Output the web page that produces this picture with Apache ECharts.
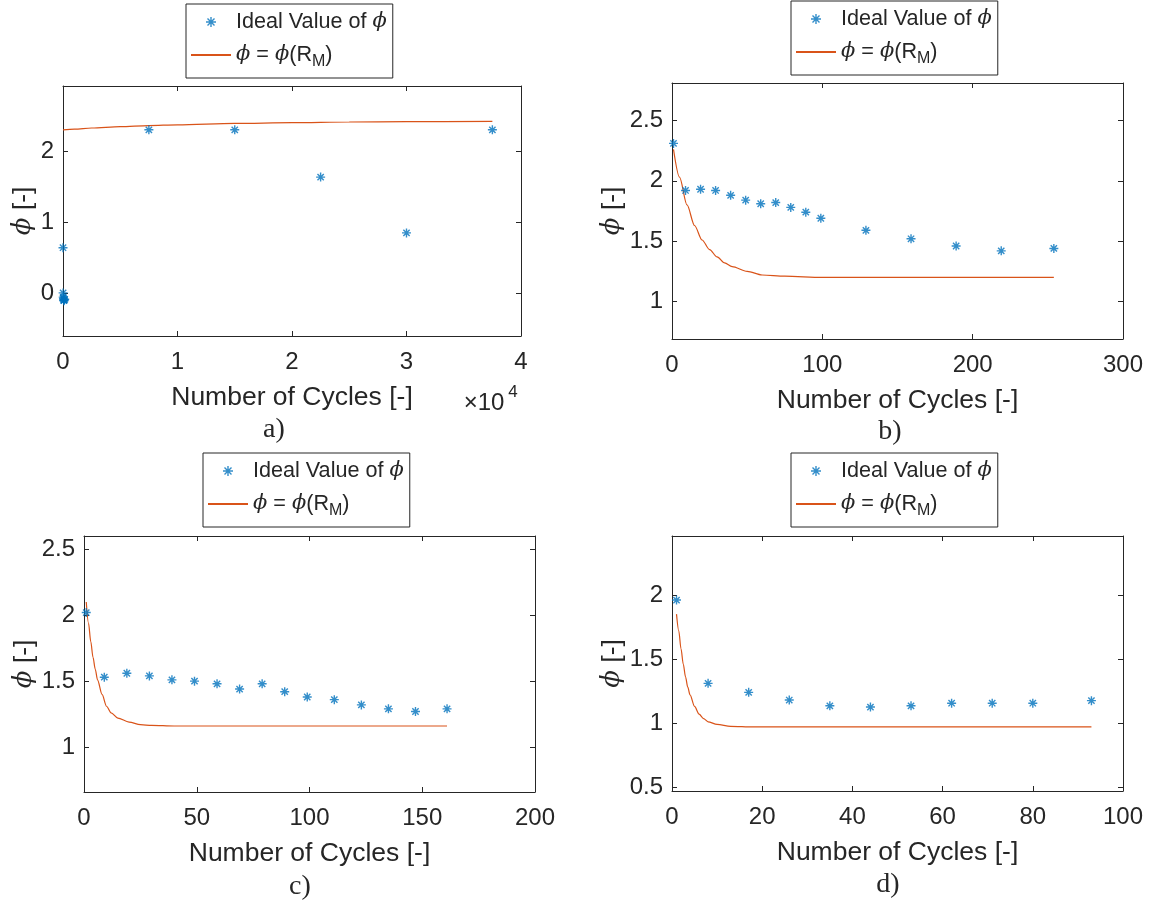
<!DOCTYPE html>
<html>
<head>
<meta charset="utf-8">
<script src="https://cdn.jsdelivr.net/npm/echarts@6/dist/echarts.min.js"></script>
<style>
  html, body { margin: 0; padding: 0; background: #fff; }
  #chart { width: 1153px; height: 909px; }
</style>
</head>
<body>
<div id="chart"></div>
<script>
// a) cycles to failure, large spread
const aIdealX = [1, 10, 20, 40, 60, 80, 100, 150, 7500, 15000, 22500, 30000, 37500];
const aIdealY = [0.64, 0.0, -0.06, -0.08, -0.1, -0.11, -0.1, -0.09, 2.31, 2.31, 1.64, 0.85, 2.31];
const aModelX = [0, 1000, 2500, 5000, 7500, 10000, 15000, 20000, 25000, 30000, 37500];
const aModelY = [2.31, 2.32, 2.335, 2.355, 2.37, 2.38, 2.40, 2.41, 2.42, 2.425, 2.43];

// b)
const bIdealX = [1, 9, 19, 29, 39, 49, 59, 69, 79, 89, 99, 129, 159, 189, 219, 254];
const bIdealY = [2.31, 1.92, 1.93, 1.92, 1.88, 1.84, 1.81, 1.82, 1.78, 1.74, 1.69, 1.59, 1.52, 1.46, 1.42, 1.44];
const bModelX = [1, 5, 10, 15, 20, 25, 30, 35, 40, 50, 60, 75, 100, 150, 254];
const bModelY = [2.26, 2.03, 1.80, 1.63, 1.51, 1.43, 1.37, 1.32, 1.29, 1.25, 1.22, 1.21, 1.20, 1.20, 1.20];

// c)
const cIdealX = [1, 9, 19, 29, 39, 49, 59, 69, 79, 89, 99, 111, 123, 135, 147, 161];
const cIdealY = [2.02, 1.53, 1.56, 1.54, 1.51, 1.50, 1.48, 1.44, 1.48, 1.42, 1.38, 1.36, 1.32, 1.29, 1.27, 1.29];
const cModelX = [1, 2, 3, 4, 5, 6, 8, 10, 12, 15, 20, 25, 30, 40, 60, 161];
const cModelY = [2.10, 1.94, 1.80, 1.68, 1.59, 1.51, 1.40, 1.31, 1.26, 1.22, 1.19, 1.17, 1.165, 1.16, 1.16, 1.16];

// d)
const dIdealX = [1, 8, 17, 26, 35, 44, 53, 62, 71, 80, 93];
const dIdealY = [1.96, 1.31, 1.24, 1.18, 1.135, 1.125, 1.135, 1.155, 1.155, 1.155, 1.175];
const dModelX = [1, 1.5, 2, 2.5, 3, 3.5, 4, 5, 6, 7, 8, 10, 13, 18, 40, 93];
const dModelY = [1.85, 1.72, 1.58, 1.46, 1.36, 1.28, 1.22, 1.13, 1.07, 1.035, 1.01, 0.99, 0.975, 0.97, 0.97, 0.97];

// axis tick labels
const aYTicks = [0, 1, 2];
const bYTicks = [1, 1.5, 2, 2.5];
const cYTicks = [1, 1.5, 2, 2.5];
const dYTicks = [0.5, 1, 1.5, 2];
const panelLabels = ["a)", "b)", "c)", "d)"];

const INK = "#262626";
const BLUE = "#0072BD";
const ORANGE = "#D95319";
const SANS = "Liberation Sans";
const SERIF = "DejaVu Serif";
const ASTERISK = "path://M5,0L5,10M0,5L10,5M1.5,1.5L8.5,8.5M1.5,8.5L8.5,1.5";
const IDEAL = "Ideal Value of ϕ";
const MODEL = "ϕ = ϕ(R_M)";

const pts = (xs, ys) => xs.map((x, i) => [x, ys[i]]);

const panels = [
  { ideal: pts(aIdealX, aIdealY), model: pts(aModelX, aModelY),
    grid: { left: 63, top: 86, width: 458, height: 250 },
    x: [0, 40000, 10000], y: [-0.61, 2.93], yTicks: aYTicks, yGap: 26,
    legend: { left: 186, top: 4 }, label: [274, 430], xFmt: (v) => v / 10000 },
  { ideal: pts(bIdealX, bIdealY), model: pts(bModelX, bModelY),
    grid: { left: 672, top: 83, width: 451, height: 256 },
    x: [0, 300, 100], y: [0.69, 2.81], yTicks: bYTicks, yGap: 46,
    legend: { left: 791, top: 1 }, label: [890, 432] },
  { ideal: pts(cIdealX, cIdealY), model: pts(cModelX, cModelY),
    grid: { left: 84, top: 536, width: 451, height: 256 },
    x: [0, 200, 50], y: [0.66, 2.60], yTicks: cYTicks, yGap: 43,
    legend: { left: 203, top: 453 }, label: [300, 887] },
  { ideal: pts(dIdealX, dIdealY), model: pts(dModelX, dModelY),
    grid: { left: 672, top: 536, width: 451, height: 255 },
    x: [0, 100, 20], y: [0.47, 2.46], yTicks: dYTicks, yGap: 46,
    legend: { left: 791, top: 453 }, label: [888, 885] },
];

const tickStyle = { inside: true, length: 5, lineStyle: { color: INK, width: 1 } };
const lineStyle = { onZero: false, lineStyle: { color: INK, width: 1 } };

const grid = [], xAxis = [], yAxis = [], series = [], legend = [], graphic = [];

panels.forEach((p, i) => {
  grid.push(p.grid);
  const xBase = { type: "value", gridIndex: i, min: p.x[0], max: p.x[1], interval: p.x[2],
    axisLine: lineStyle, axisTick: tickStyle, splitLine: { show: false } };
  xAxis.push({ ...xBase, position: "bottom",
    axisLabel: { fontFamily: SANS, fontSize: 24, color: INK, margin: 14, formatter: p.xFmt || ((v) => v) },
    name: "Number of Cycles [-]", nameLocation: "middle", nameGap: 48,
    nameTextStyle: { fontFamily: SANS, fontSize: 26.5, color: INK } });
  xAxis.push({ ...xBase, position: "top", axisLabel: { show: false } });

  const yBase = { type: "value", gridIndex: i, min: p.y[0], max: p.y[1],
    axisLine: lineStyle, splitLine: { show: false },
    axisTick: { ...tickStyle, customValues: p.yTicks } };
  yAxis.push({ ...yBase, position: "left",
    axisLabel: { fontFamily: SANS, fontSize: 24, color: INK, margin: 9, customValues: p.yTicks },
    name: "{phi|ϕ} [-]", nameLocation: "middle", nameGap: p.yGap, nameRotate: 90,
    nameTextStyle: { fontFamily: SANS, fontSize: 26.5, color: INK,
      rich: { phi: { fontFamily: SERIF, fontStyle: "italic", fontSize: 26 } } } });
  yAxis.push({ ...yBase, position: "right", axisLabel: { show: false } });

  series.push({ type: "scatter", name: IDEAL, xAxisIndex: 2 * i, yAxisIndex: 2 * i,
    data: p.ideal, symbol: ASTERISK, symbolSize: 9, symbolKeepAspect: true,
    itemStyle: { color: BLUE, borderColor: BLUE, borderWidth: 1.4 }, z: 3 });
  series.push({ type: "line", name: MODEL, xAxisIndex: 2 * i, yAxisIndex: 2 * i,
    data: p.model, showSymbol: false, symbol: "none", smooth: 0.3, smoothMonotone: "x",
    lineStyle: { color: ORANGE, width: 1.2 }, itemStyle: { color: ORANGE }, z: 2 });

  legend.push({
    left: p.legend.left, top: p.legend.top, orient: "vertical",
    data: [{ name: IDEAL, icon: ASTERISK, itemStyle: { color: BLUE, borderColor: BLUE, borderWidth: 1.4 } },
           { name: MODEL, itemStyle: { opacity: 0 } }],
    itemWidth: 40, itemHeight: 10, itemGap: 5, padding: [5, 6, 8, 4],
    symbolKeepAspect: true, selectedMode: false,
    backgroundColor: "#fff", borderColor: INK, borderWidth: 1, borderRadius: 0,
    textStyle: { fontFamily: SANS, fontSize: 21.6, color: INK, lineHeight: 26,
      rich: { phi: { fontFamily: SERIF, fontStyle: "italic", fontSize: 21, lineHeight: 26 },
              sub: { fontSize: 16, lineHeight: 26, padding: [14, 0, 0, 0] } } },
    formatter: (name) => name === IDEAL ? "Ideal Value of {phi|ϕ}" : "{phi|ϕ} = {phi|ϕ}(R{sub|M})",
  });

  graphic.push({ type: "text", x: p.label[0], y: p.label[1],
    style: { text: panelLabels[i], fontFamily: "Liberation Serif", fontSize: 28, fill: INK,
      align: "center", verticalAlign: "middle" } });
});

// x10^4 multiplier of panel a
graphic.push({ type: "text", x: 484, y: 403,
  style: { text: "×10", fontFamily: SANS, fontSize: 24, fill: INK, align: "center", verticalAlign: "middle" } });
graphic.push({ type: "text", x: 513, y: 392,
  style: { text: "4", fontFamily: SANS, fontSize: 17, fill: INK, align: "center", verticalAlign: "middle" } });

const chart = echarts.init(document.getElementById("chart"));
chart.setOption({
  animation: false,
  backgroundColor: "#fff",
  grid, xAxis, yAxis, series, legend, graphic,
});
</script>
</body>
</html>
